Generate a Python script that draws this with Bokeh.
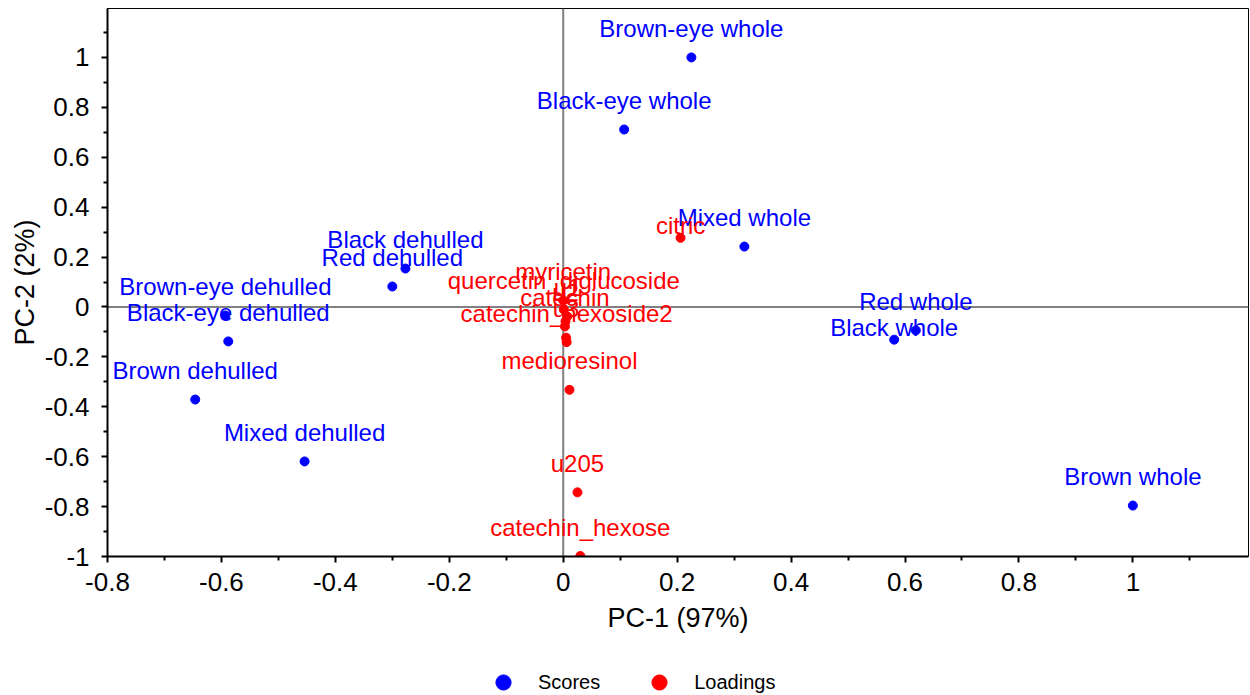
from bokeh.plotting import figure
from bokeh.layouts import column
from bokeh.models import Span, Legend, LegendItem, FixedTicker, ColumnDataSource, Range1d
from bokeh.core.properties import value
from bokeh.embed import file_html
from bokeh.resources import INLINE

# ---------------- data ----------------
score_names = ["Brown-eye whole", "Black-eye whole", "Mixed whole", "Red whole",
               "Black whole", "Brown whole", "Black dehulled", "Red dehulled",
               "Brown-eye dehulled", "Black-eye dehulled", "Brown dehulled",
               "Mixed dehulled"]
score_x = [0.225, 0.107, 0.318, 0.619, 0.581, 1.000, -0.277, -0.300,
           -0.593, -0.588, -0.646, -0.454]
score_y = [1.000, 0.711, 0.242, -0.094, -0.131, -0.796, 0.154, 0.082,
           -0.034, -0.138, -0.371, -0.619]

loading_names = ["citric", "myricetin", "quercetin_diglucoside", "u1", "u2",
                 "catechin", "u3", "catechin_hexoside2", "medioresinol",
                 "u205", "catechin_hexose"]
loading_x = [0.206, 0.000, 0.001, 0.007, 0.004, 0.003, 0.005, 0.006,
             0.011, 0.025, 0.030]
loading_y = [0.277, 0.026, -0.010, -0.038, -0.058, -0.078, -0.123, -0.141,
             -0.332, -0.743, -0.998]

x_ticks = [-0.8, -0.6, -0.4, -0.2, 0, 0.2, 0.4, 0.6, 0.8, 1]
x_tick_labels = ["-0.8", "-0.6", "-0.4", "-0.2", "0", "0.2", "0.4", "0.6", "0.8", "1"]
y_ticks = [-1, -0.8, -0.6, -0.4, -0.2, 0, 0.2, 0.4, 0.6, 0.8, 1]
y_tick_labels = ["-1", "-0.8", "-0.6", "-0.4", "-0.2", "0", "0.2", "0.4", "0.6", "0.8", "1"]

x_title = "PC-1 (97%)"
y_title = "PC-2 (2%)"
legend_labels = ["Scores", "Loadings"]

# ---------------- style ----------------
FONT = "Liberation Sans"
BLUE = "#0000FF"
RED = "#FF0000"
near_labels_score = {"Black whole"}
near_labels_loading = {"citric"}

p = figure(width=1250, height=656, output_backend="svg", toolbar_location=None,
           x_range=Range1d(-0.8, 1.203), y_range=Range1d(-1, 1.196),
           min_border_left=107, min_border_right=2, min_border_top=8,
           min_border_bottom=100)
p.background_fill_color = "white"
p.border_fill_color = "white"
p.grid.visible = False
p.outline_line_color = "black"
p.outline_line_width = 1

def minor_of(ticks):
    m = [(a + b) / 2 for a, b in zip(ticks[:-1], ticks[1:])]
    m.append(ticks[-1] + (ticks[1] - ticks[0]) / 2)
    return m

p.xaxis.ticker = FixedTicker(ticks=x_ticks, minor_ticks=minor_of(x_ticks))
p.yaxis.ticker = FixedTicker(ticks=y_ticks, minor_ticks=minor_of(y_ticks))
p.xaxis.major_label_overrides = {t: l for t, l in zip(x_ticks, x_tick_labels)}
p.yaxis.major_label_overrides = {t: l for t, l in zip(y_ticks, y_tick_labels)}
p.xaxis.axis_label = x_title
p.yaxis.axis_label = y_title

for ax in (p.xaxis[0], p.yaxis[0]):
    ax.axis_line_color = "black"
    ax.axis_line_width = 2
    ax.major_tick_in = 0
    ax.major_tick_out = 6
    ax.minor_tick_in = 0
    ax.minor_tick_out = 4
    ax.major_tick_line_width = 2
    ax.minor_tick_line_width = 2
    ax.major_tick_line_color = "black"
    ax.minor_tick_line_color = "black"
    ax.major_label_text_font = FONT
    ax.major_label_text_font_size = "26px"
    ax.major_label_text_color = "black"
    ax.axis_label_text_font = FONT
    ax.axis_label_text_font_size = "27px"
    ax.axis_label_text_font_style = "normal"
    ax.axis_label_text_color = "black"

p.xaxis.major_label_standoff = 10
p.xaxis.axis_label_standoff = 9
p.yaxis.major_label_standoff = 12
p.yaxis.axis_label_standoff = 2

# zero lines
p.add_layout(Span(location=0, dimension="height", line_color="#808080",
                  line_width=2, level="underlay"))
p.add_layout(Span(location=0, dimension="width", line_color="#808080",
                  line_width=2, level="underlay"))

score_src = ColumnDataSource(dict(
    x=score_x, y=score_y, name=score_names,
    dy=[-12 if n in near_labels_score else -29 for n in score_names]))
load_src = ColumnDataSource(dict(
    x=loading_x, y=loading_y, name=loading_names,
    dy=[-12 if n in near_labels_loading else -29 for n in loading_names]))

p.scatter("x", "y", source=score_src, size=9, color=BLUE)
p.scatter("x", "y", source=load_src, size=9, color=RED)

p.text("x", "y", text="name", source=score_src, y_offset="dy",
       text_align="center", text_baseline="middle", text_color=BLUE,
       text_font=value(FONT), text_font_size="24px")
p.text("x", "y", text="name", source=load_src, y_offset="dy",
       text_align="center", text_baseline="middle", text_color=RED,
       text_font=value(FONT), text_font_size="24px")

# ---------------- legend strip (its frame aligns with the plot's frame) ----------------
lg = figure(width=1250, height=39, output_backend="svg", toolbar_location=None,
            x_axis_type=None, y_axis_type=None, x_range=Range1d(10, 11),
            y_range=Range1d(10, 11), min_border=0)
lg.grid.visible = False
lg.outline_line_color = None
lg.background_fill_color = "white"
lg.border_fill_color = "white"
r_s = lg.scatter("x", "y", source=score_src, size=9, color=BLUE)
r_l = lg.scatter("x", "y", source=load_src, size=9, color=RED)
legend = Legend(items=[LegendItem(label=legend_labels[0], renderers=[r_s]),
                       LegendItem(label=legend_labels[1], renderers=[r_l])],
                orientation="horizontal", location=(377, -6),
                glyph_width=38, glyph_height=38, label_standoff=16, spacing=40,
                padding=0, margin=0, border_line_color=None,
                background_fill_alpha=0, label_text_font=FONT,
                label_text_font_size="20px", label_text_color="black")
lg.add_layout(legend, "center")

layout = column(p, lg, spacing=0)
open("out.html", "w").write(file_html(layout, INLINE))
